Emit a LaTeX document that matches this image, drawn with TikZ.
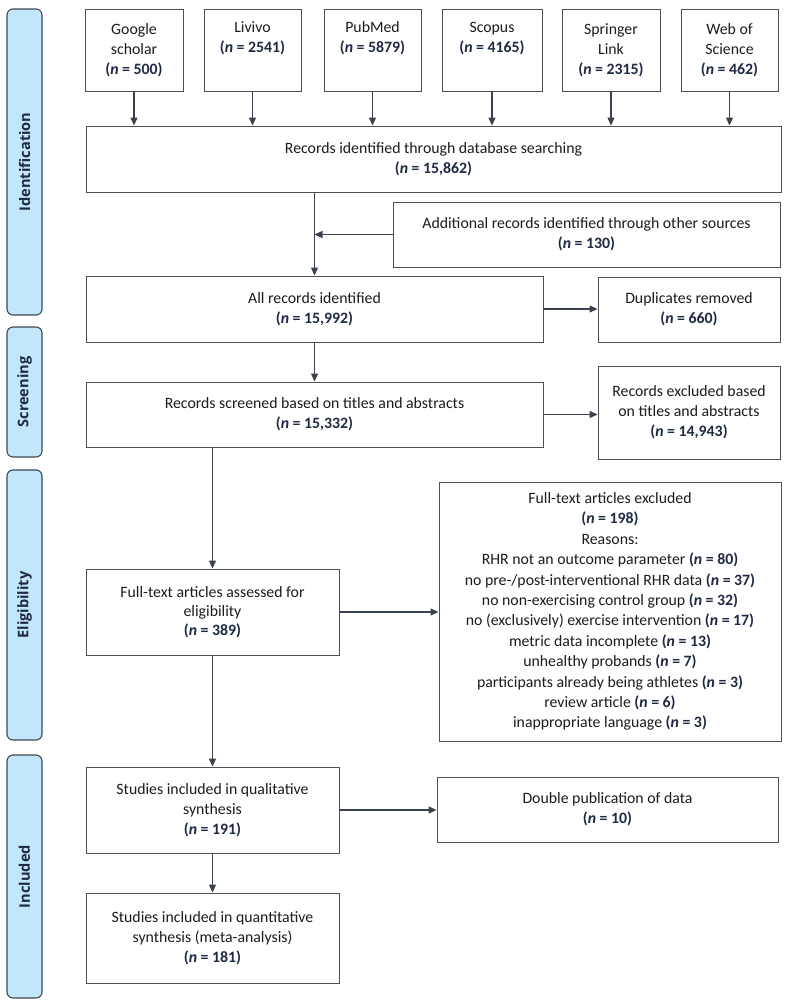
\documentclass[tikz,border=0pt]{standalone}
\usepackage{fontspec}
\setmainfont{Carlito}
\newfontfamily\labelfont{Open Sans}
\usetikzlibrary{arrows.meta}
\definecolor{txt}{HTML}{1C1C1C}
\definecolor{nbold}{HTML}{1F2A44}
\definecolor{lblfill}{HTML}{C2E7FA}
\definecolor{lbldraw}{HTML}{3E4852}
\definecolor{boxdraw}{HTML}{505050}
\definecolor{arr}{HTML}{3A4250}
\newcommand{\nval}[1]{\textcolor{nbold}{\textbf{(\textit{n} = #1)}}}
\begin{document}
\begin{tikzpicture}[x=1pt,y=-1pt,
  box/.style={draw=boxdraw, line width=0.9pt, align=center, inner sep=0pt, text=txt,
    font=\fontsize{15.8}{19.8}\selectfont},
  phase/.style={draw=lbldraw, fill=lblfill, line width=1.1pt, rounded corners=6pt,
    rotate=90, inner sep=0pt, minimum height=35pt, text=nbold,
    font=\labelfont\bfseries\fontsize{14.6}{16}\selectfont},
  conn/.style={draw=arr, line width=1.2pt, -{Triangle[length=8pt,width=7pt]}}]
\useasboundingbox (0,0) rectangle (789,1008);
\fill[white] (0,0) rectangle (789,1008);

% phase labels
\node[phase, minimum width=306pt] (pid) at (24.5,162) {Identification};
\node[phase, minimum width=130pt] (psc) at (24.5,392) {Screening};
\node[phase, minimum width=270pt] (pel) at (24.5,605) {Eligibility};
\node[phase, minimum width=243pt] (pin) at (24.5,876.5) {Included};

% database boxes
\node[box, minimum width=98pt, minimum height=82pt] (gs) at (134,50) {Google\\scholar\\\nval{500}};
\node[box, minimum width=97pt, minimum height=82pt] (liv) at (252.5,50) {Livivo\\\nval{2541}\\\strut};
\node[box, minimum width=97pt, minimum height=82pt] (pub) at (372.5,50) {PubMed\\\nval{5879}\\\strut};
\node[box, minimum width=100pt, minimum height=82pt] (sco) at (492,50) {Scopus\\\nval{4165}\\\strut};
\node[box, minimum width=98pt, minimum height=82pt] (spr) at (611,50) {Springer\\Link\\\nval{2315}};
\node[box, minimum width=97pt, minimum height=82pt] (wos) at (729.5,50) {Web of\\Science\\\nval{462}};

\node[box, minimum width=695pt, minimum height=66pt] (recid) at (433.5,159)
  {Records identified through database searching\\\nval{15,862}};
\node[box, minimum width=387pt, minimum height=65pt] (add) at (586.5,234.5)
  {Additional records identified through other sources\\\nval{130}};
\node[box, minimum width=457pt, minimum height=66pt] (allrec) at (314.5,309)
  {All records identified\\\nval{15,992}};
\node[box, minimum width=182pt, minimum height=65pt] (dup) at (689,309.5)
  {Duplicates removed\\\nval{660}};
\node[box, minimum width=457pt, minimum height=65pt] (scr) at (314.5,414.5)
  {Records screened based on titles and abstracts\\\nval{15,332}};
\node[box, minimum width=182pt, minimum height=93pt] (exta) at (689,412.5)
  {Records excluded based\\on titles and abstracts\\\nval{14,943}};
\node[box, minimum width=253pt, minimum height=86pt, font=\fontsize{15.8}{19}\selectfont] (ft) at (212.5,612)
  {Full-text articles assessed for\\eligibility\\\nval{389}};
\node[box, minimum width=342pt, minimum height=259pt, font=\fontsize{15.8}{20.4}\selectfont] (exft) at (610,611.5)
  {Full-text articles excluded\\\nval{198}\\Reasons:\\
   RHR not an outcome parameter \nval{80}\\
   no pre-/post-interventional RHR data \nval{37}\\
   no non-exercising control group \nval{32}\\
   no (exclusively) exercise intervention \nval{17}\\
   metric data incomplete \nval{13}\\
   unhealthy probands \nval{7}\\
   participants already being athletes \nval{3}\\
   review article \nval{6}\\
   inappropriate language \nval{3}};
\node[box, minimum width=253pt, minimum height=86pt] (qual) at (212.5,810)
  {Studies included in qualitative\\synthesis\\\nval{191}};
\node[box, minimum width=341pt, minimum height=65pt] (dbl) at (607.5,809.5)
  {Double publication of data\\\nval{10}};
\node[box, minimum width=253pt, minimum height=90pt] (quant) at (212.5,938)
  {Studies included in quantitative\\synthesis (meta-analysis)\\\nval{181}};

% connectors
\foreach \b in {gs,liv,pub,sco,spr,wos}
  \draw[conn] (\b.south) -- (\b.south |- recid.north);
\draw[conn] (recid.south -| allrec.north) -- (allrec.north);
\draw[conn] (add.west) -- (add.west -| allrec.north);
\draw[conn] (allrec.east) -- (allrec.east -| dup.west);
\draw[conn] (allrec.south) -- (scr.north);
\draw[conn] (scr.east) -- (scr.east -| exta.west);
\draw[conn] (scr.south -| ft.north) -- (ft.north);
\draw[conn] (ft.east) -- (ft.east -| exft.west);
\draw[conn] (ft.south) -- (qual.north);
\draw[conn] (qual.east) -- (qual.east -| dbl.west);
\draw[conn] (qual.south) -- (quant.north);
\end{tikzpicture}
\end{document}
